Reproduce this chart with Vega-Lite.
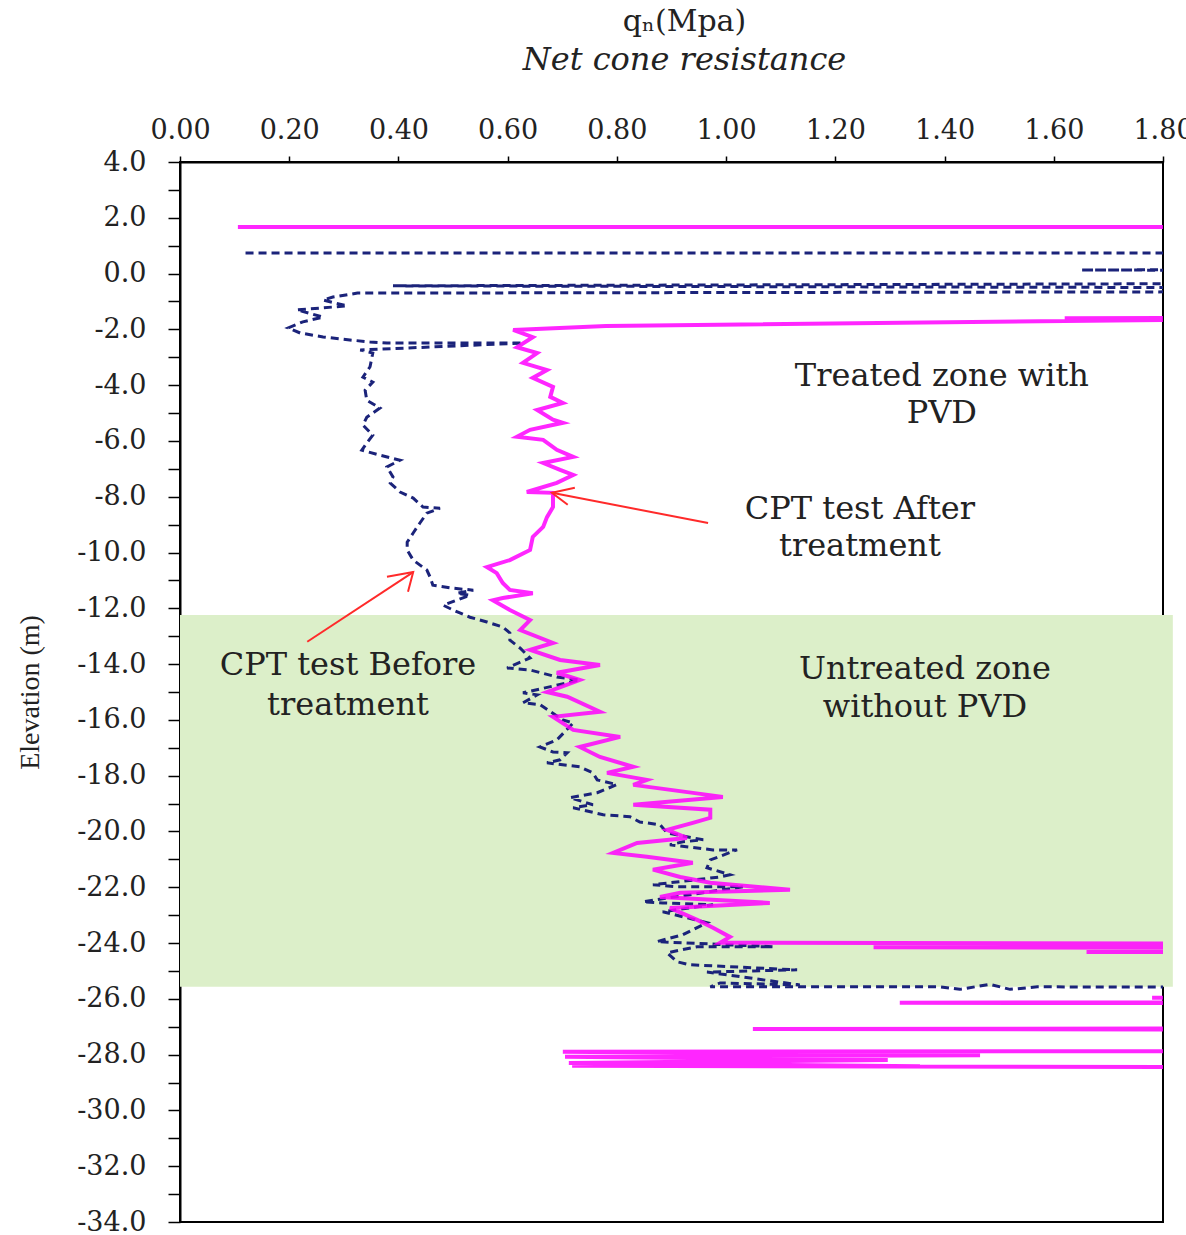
{
  "$schema": "https://vega.github.io/schema/vega-lite/v6.json",
  "width": 983,
  "height": 1060,
  "autosize": {"type": "none"},
  "padding": {"left": 180, "top": 162, "right": 23, "bottom": 13},
  "background": "white",
  "config": {"view": {"stroke": "black", "strokeWidth": 2}},
  "title": {
    "text": "qₙ(Mpa)",
    "subtitle": "Net cone resistance",
    "font": "DejaVu Serif",
    "fontSize": 30,
    "fontWeight": "normal",
    "color": "#222",
    "subtitleFont": "DejaVu Serif",
    "subtitleFontSize": 32,
    "subtitleFontStyle": "italic",
    "subtitleColor": "#222",
    "subtitlePadding": 8,
    "anchor": "middle",
    "dx": 13,
    "offset": 40
  },
  "datasets": {
    "zone": [{"q": 0, "q2": 1.818, "elev": -12.24, "elev2": -25.57}],
    "before": [
      {"i":0,"q":0.120,"elev":0.74},{"i":1,"q":3.0,"elev":0.74},{"i":2,"q":3.0,"elev":0.17},{"i":3,"q":1.65,"elev":0.13},
      {"i":4,"q":3.0,"elev":0.06},{"i":5,"q":3.0,"elev":-0.30},{"i":6,"q":0.390,"elev":-0.44},{"i":7,"q":3.0,"elev":-0.55},
      {"i":8,"q":3.0,"elev":-0.62},{"i":9,"q":0.325,"elev":-0.70},{"i":10,"q":0.280,"elev":-0.84},{"i":11,"q":0.262,"elev":-0.95},
      {"i":12,"q":0.306,"elev":-1.16},{"i":13,"q":0.214,"elev":-1.30},{"i":14,"q":0.262,"elev":-1.56},{"i":15,"q":0.225,"elev":-1.73},
      {"i":16,"q":0.198,"elev":-1.95},{"i":17,"q":0.220,"elev":-2.13},{"i":18,"q":0.262,"elev":-2.27},{"i":19,"q":0.311,"elev":-2.38},
      {"i":20,"q":0.348,"elev":-2.45},{"i":21,"q":0.379,"elev":-2.49},{"i":22,"q":0.628,"elev":-2.49},{"i":23,"q":0.330,"elev":-2.74},
      {"i":24,"q":0.353,"elev":-2.85},{"i":25,"q":0.348,"elev":-3.34},{"i":26,"q":0.335,"elev":-3.71},{"i":27,"q":0.353,"elev":-3.89},
      {"i":28,"q":0.339,"elev":-4.18},{"i":29,"q":0.342,"elev":-4.54},{"i":30,"q":0.366,"elev":-4.82},{"i":31,"q":0.342,"elev":-5.15},
      {"i":32,"q":0.335,"elev":-5.43},{"i":33,"q":0.353,"elev":-5.79},{"i":34,"q":0.342,"elev":-6.08},{"i":35,"q":0.333,"elev":-6.33},
      {"i":36,"q":0.366,"elev":-6.51},{"i":37,"q":0.403,"elev":-6.69},{"i":38,"q":0.379,"elev":-6.93},{"i":39,"q":0.390,"elev":-7.29},
      {"i":40,"q":0.385,"elev":-7.51},{"i":41,"q":0.403,"elev":-7.83},{"i":42,"q":0.427,"elev":-8.05},{"i":43,"q":0.445,"elev":-8.37},
      {"i":44,"q":0.476,"elev":-8.41},{"i":45,"q":0.452,"elev":-8.59},{"i":46,"q":0.439,"elev":-8.95},{"i":47,"q":0.427,"elev":-9.30},
      {"i":48,"q":0.416,"elev":-9.63},{"i":49,"q":0.416,"elev":-9.91},{"i":50,"q":0.427,"elev":-10.27},{"i":51,"q":0.452,"elev":-10.63},
      {"i":52,"q":0.458,"elev":-10.88},{"i":53,"q":0.463,"elev":-11.17},{"i":54,"q":0.500,"elev":-11.28},{"i":55,"q":0.537,"elev":-11.35},
      {"i":56,"q":0.507,"elev":-11.46},{"i":57,"q":0.531,"elev":-11.53},{"i":58,"q":0.482,"elev":-11.89},{"i":59,"q":0.500,"elev":-12.06},
      {"i":60,"q":0.531,"elev":-12.32},{"i":61,"q":0.562,"elev":-12.49},{"i":62,"q":0.591,"elev":-12.67},{"i":63,"q":0.604,"elev":-12.88},
      {"i":64,"q":0.604,"elev":-13.14},{"i":65,"q":0.623,"elev":-13.43},{"i":66,"q":0.641,"elev":-13.78},{"i":67,"q":0.599,"elev":-14.14},
      {"i":68,"q":0.641,"elev":-14.21},{"i":69,"q":0.690,"elev":-14.46},{"i":70,"q":0.732,"elev":-14.57},{"i":71,"q":0.628,"elev":-15.03},
      {"i":72,"q":0.654,"elev":-15.10},{"i":73,"q":0.628,"elev":-15.39},{"i":74,"q":0.659,"elev":-15.45},{"i":75,"q":0.701,"elev":-16.00},
      {"i":76,"q":0.720,"elev":-16.11},{"i":77,"q":0.690,"elev":-16.72},{"i":78,"q":0.659,"elev":-16.97},{"i":79,"q":0.683,"elev":-17.15},
      {"i":80,"q":0.709,"elev":-17.18},{"i":81,"q":0.696,"elev":-17.43},{"i":82,"q":0.672,"elev":-17.54},{"i":83,"q":0.732,"elev":-17.68},
      {"i":84,"q":0.756,"elev":-17.90},{"i":85,"q":0.764,"elev":-18.15},{"i":86,"q":0.800,"elev":-18.32},{"i":87,"q":0.764,"elev":-18.61},
      {"i":88,"q":0.714,"elev":-18.79},{"i":89,"q":0.756,"elev":-19.04},{"i":90,"q":0.720,"elev":-19.15},{"i":91,"q":0.775,"elev":-19.40},
      {"i":92,"q":0.824,"elev":-19.47},{"i":93,"q":0.842,"elev":-19.66},{"i":94,"q":0.879,"elev":-19.76},{"i":95,"q":0.892,"elev":-20.05},
      {"i":96,"q":0.958,"elev":-20.30},{"i":97,"q":0.921,"elev":-20.37},{"i":98,"q":0.897,"elev":-20.48},{"i":99,"q":0.976,"elev":-20.66},
      {"i":100,"q":1.020,"elev":-20.66},{"i":101,"q":0.971,"elev":-21.02},{"i":102,"q":0.965,"elev":-21.30},{"i":103,"q":1.007,"elev":-21.55},
      {"i":104,"q":0.989,"elev":-21.63},{"i":105,"q":0.866,"elev":-21.91},{"i":106,"q":0.910,"elev":-21.98},{"i":107,"q":1.031,"elev":-21.98},
      {"i":108,"q":0.848,"elev":-22.52},{"i":109,"q":0.884,"elev":-22.56},{"i":110,"q":0.976,"elev":-22.63},{"i":111,"q":0.947,"elev":-22.70},
      {"i":112,"q":0.884,"elev":-22.88},{"i":113,"q":0.965,"elev":-23.27},{"i":114,"q":0.921,"elev":-23.70},{"i":115,"q":0.873,"elev":-23.95},
      {"i":116,"q":1.086,"elev":-24.13},{"i":117,"q":0.947,"elev":-24.13},{"i":118,"q":0.892,"elev":-24.35},{"i":119,"q":0.910,"elev":-24.67},
      {"i":120,"q":0.934,"elev":-24.78},{"i":121,"q":1.130,"elev":-24.96},{"i":122,"q":0.965,"elev":-25.04},{"i":123,"q":1.135,"elev":-25.50},
      {"i":124,"q":0.989,"elev":-25.43},{"i":125,"q":0.971,"elev":-25.57},{"i":126,"q":1.392,"elev":-25.57},{"i":127,"q":1.428,"elev":-25.66},
      {"i":128,"q":1.483,"elev":-25.48},{"i":129,"q":1.520,"elev":-25.66},{"i":130,"q":1.570,"elev":-25.57},{"i":131,"q":3.0,"elev":-25.60}
    ],
    "after": [
      {"i":0,"q":0.106,"elev":1.67},{"i":1,"q":3.0,"elev":1.67},{"i":2,"q":3.0,"elev":-1.55},{"i":3,"q":1.62,"elev":-1.60},
      {"i":4,"q":3.0,"elev":-1.63},{"i":5,"q":1.80,"elev":-1.66},{"i":6,"q":0.78,"elev":-1.88},{"i":7,"q":0.610,"elev":-2.02},
      {"i":8,"q":0.646,"elev":-2.28},{"i":9,"q":0.617,"elev":-2.64},{"i":10,"q":0.654,"elev":-2.85},{"i":11,"q":0.628,"elev":-3.20},
      {"i":12,"q":0.672,"elev":-3.46},{"i":13,"q":0.646,"elev":-3.74},{"i":14,"q":0.683,"elev":-4.06},{"i":15,"q":0.678,"elev":-4.42},
      {"i":16,"q":0.701,"elev":-4.64},{"i":17,"q":0.654,"elev":-4.89},{"i":18,"q":0.683,"elev":-5.24},{"i":19,"q":0.701,"elev":-5.35},
      {"i":20,"q":0.641,"elev":-5.60},{"i":21,"q":0.617,"elev":-5.85},{"i":22,"q":0.665,"elev":-5.96},{"i":23,"q":0.690,"elev":-6.32},
      {"i":24,"q":0.720,"elev":-6.57},{"i":25,"q":0.665,"elev":-6.79},{"i":26,"q":0.696,"elev":-7.04},{"i":27,"q":0.720,"elev":-7.22},
      {"i":28,"q":0.690,"elev":-7.50},{"i":29,"q":0.635,"elev":-7.83},{"i":30,"q":0.683,"elev":-7.86},{"i":31,"q":0.683,"elev":-8.37},
      {"i":32,"q":0.672,"elev":-8.73},{"i":33,"q":0.665,"elev":-9.08},{"i":34,"q":0.646,"elev":-9.44},{"i":35,"q":0.641,"elev":-9.91},
      {"i":36,"q":0.604,"elev":-10.27},{"i":37,"q":0.562,"elev":-10.52},{"i":38,"q":0.580,"elev":-10.74},{"i":39,"q":0.591,"elev":-11.09},
      {"i":40,"q":0.604,"elev":-11.34},{"i":41,"q":0.646,"elev":-11.46},{"i":42,"q":0.591,"elev":-11.63},{"i":43,"q":0.573,"elev":-11.71},
      {"i":44,"q":0.604,"elev":-12.06},{"i":45,"q":0.641,"elev":-12.42},{"i":46,"q":0.623,"elev":-12.78},{"i":47,"q":0.683,"elev":-13.24},
      {"i":48,"q":0.641,"elev":-13.49},{"i":49,"q":0.696,"elev":-13.85},{"i":50,"q":0.769,"elev":-14.03},{"i":51,"q":0.690,"elev":-14.31},
      {"i":52,"q":0.732,"elev":-14.57},{"i":53,"q":0.672,"elev":-15.00},{"i":54,"q":0.709,"elev":-15.17},{"i":55,"q":0.769,"elev":-15.71},
      {"i":56,"q":0.683,"elev":-15.89},{"i":57,"q":0.720,"elev":-16.36},{"i":58,"q":0.806,"elev":-16.61},{"i":59,"q":0.732,"elev":-16.97},
      {"i":60,"q":0.769,"elev":-17.33},{"i":61,"q":0.830,"elev":-17.68},{"i":62,"q":0.782,"elev":-17.90},{"i":63,"q":0.855,"elev":-18.15},
      {"i":64,"q":0.830,"elev":-18.33},{"i":65,"q":0.994,"elev":-18.76},{"i":66,"q":0.830,"elev":-19.04},{"i":67,"q":0.971,"elev":-19.22},
      {"i":68,"q":0.971,"elev":-19.51},{"i":69,"q":0.939,"elev":-19.69},{"i":70,"q":0.892,"elev":-19.94},{"i":71,"q":0.928,"elev":-20.23},
      {"i":72,"q":0.837,"elev":-20.41},{"i":73,"q":0.793,"elev":-20.77},{"i":74,"q":0.855,"elev":-20.91},{"i":75,"q":0.939,"elev":-21.12},
      {"i":76,"q":0.866,"elev":-21.37},{"i":77,"q":0.916,"elev":-21.63},{"i":78,"q":0.971,"elev":-21.84},{"i":79,"q":1.117,"elev":-22.09},
      {"i":80,"q":0.916,"elev":-22.20},{"i":81,"q":0.879,"elev":-22.35},{"i":82,"q":1.080,"elev":-22.56},{"i":83,"q":0.897,"elev":-22.74},
      {"i":84,"q":0.947,"elev":-23.17},{"i":85,"q":0.976,"elev":-23.45},{"i":86,"q":1.007,"elev":-23.78},{"i":87,"q":0.989,"elev":-23.99},
      {"i":88,"q":3.0,"elev":-24.05},{"i":89,"q":3.0,"elev":-24.12},{"i":90,"q":1.27,"elev":-24.15},{"i":91,"q":3.0,"elev":-24.20},
      {"i":92,"q":3.0,"elev":-24.28},{"i":93,"q":1.66,"elev":-24.32},{"i":94,"q":3.0,"elev":-24.35},{"i":95,"q":3.0,"elev":-25.90},
      {"i":96,"q":1.78,"elev":-25.96},{"i":97,"q":3.0,"elev":-26.00},{"i":98,"q":3.0,"elev":-26.10},{"i":99,"q":1.318,"elev":-26.14},
      {"i":100,"q":3.0,"elev":-26.18},{"i":101,"q":3.0,"elev":-27.04},{"i":102,"q":1.049,"elev":-27.08},{"i":103,"q":3.0,"elev":-27.12},
      {"i":104,"q":3.0,"elev":-27.85},{"i":105,"q":0.701,"elev":-27.90},{"i":106,"q":1.465,"elev":-28.02},{"i":107,"q":0.705,"elev":-28.08},
      {"i":108,"q":1.296,"elev":-28.19},{"i":109,"q":0.712,"elev":-28.30},{"i":110,"q":1.355,"elev":-28.42},{"i":111,"q":0.718,"elev":-28.40},
      {"i":112,"q":3.0,"elev":-28.50}
    ],
    "arrows": [
      {"seg":"a1","i":0,"q":0.967,"elev":-8.94},{"seg":"a1","i":1,"q":0.681,"elev":-7.86},
      {"seg":"a2","i":0,"q":0.723,"elev":-7.68},{"seg":"a2","i":1,"q":0.681,"elev":-7.86},{"seg":"a2","i":2,"q":0.710,"elev":-8.29},
      {"seg":"b1","i":0,"q":0.233,"elev":-13.20},{"seg":"b1","i":1,"q":0.427,"elev":-10.70},
      {"seg":"b2","i":0,"q":0.379,"elev":-10.87},{"seg":"b2","i":1,"q":0.427,"elev":-10.70},{"seg":"b2","i":2,"q":0.4175,"elev":-11.41}
    ],
    "labels": [
      {"t":"Treated zone with","q":1.395,"elev":-3.68},
      {"t":"PVD","q":1.395,"elev":-4.99},
      {"t":"CPT test After","q":1.245,"elev":-8.45},
      {"t":"treatment","q":1.245,"elev":-9.78},
      {"t":"CPT test Before","q":0.3076,"elev":-14.04},
      {"t":"treatment","q":0.3076,"elev":-15.45},
      {"t":"Untreated zone","q":1.364,"elev":-14.19},
      {"t":"without PVD","q":1.364,"elev":-15.55}
    ]
  },
  "encoding": {
    "x": {
      "field": "q", "type": "quantitative",
      "scale": {"domain": [0, 1.8], "nice": false, "zero": false},
      "axis": {
        "orient": "top", "title": null, "grid": false,
        "values": [0, 0.2, 0.4, 0.6, 0.8, 1.0, 1.2, 1.4, 1.6, 1.8],
        "format": ".2f",
        "labelFont": "DejaVu Serif", "labelFontSize": 27, "labelColor": "#222",
        "labelPadding": 12, "labelFlush": false, "labelOverlap": false,
        "tickSize": 6, "tickColor": "black", "tickWidth": 1.5,
        "domainColor": "black", "domainWidth": 2
      }
    },
    "y": {
      "field": "elev", "type": "quantitative",
      "scale": {"domain": [-34, 4], "nice": false, "zero": false},
      "axis": {
        "title": "Elevation (m)", "grid": false,
        "values": [-34,-33,-32,-31,-30,-29,-28,-27,-26,-25,-24,-23,-22,-21,-20,-19,-18,-17,-16,-15,-14,-13,-12,-11,-10,-9,-8,-7,-6,-5,-4,-3,-2,-1,0,1,2,3,4],
        "labelExpr": "datum.value % 2 === 0 ? replace(format(datum.value, '.1f'), '\u2212', '-') : ''",
        "labelFont": "DejaVu Serif", "labelFontSize": 27, "labelColor": "#222",
        "labelPadding": 22, "labelFlush": false, "labelOverlap": false,
        "tickSize": 12, "tickColor": "black", "tickWidth": 1.5,
        "domainColor": "black", "domainWidth": 2,
        "titleFont": "Liberation Serif", "titleFontSize": 28, "titleFontWeight": "normal", "titleColor": "#222",
        "titleX": -150, "titleY": 530, "titleAngle": -90, "titleAlign": "center", "titleBaseline": "middle"
      }
    }
  },
  "layer": [
    {
      "data": {"name": "zone"},
      "mark": {"type": "rect", "color": "#dcefc9", "clip": false},
      "encoding": {"x2": {"field": "q2"}, "y2": {"field": "elev2"}}
    },
    {
      "data": {"name": "before"},
      "mark": {"type": "line", "color": "#1b237a", "strokeWidth": 3, "strokeDash": [8, 5], "clip": true},
      "encoding": {"order": {"field": "i", "type": "quantitative"}}
    },
    {
      "data": {"name": "after"},
      "mark": {"type": "line", "color": "#ff00ff", "opacity": 0.85, "strokeWidth": 4, "clip": true},
      "encoding": {"order": {"field": "i", "type": "quantitative"}}
    },
    {
      "data": {"name": "arrows"},
      "mark": {"type": "line", "color": "#ff2a2a", "strokeWidth": 2},
      "encoding": {"detail": {"field": "seg"}, "order": {"field": "i", "type": "quantitative"}}
    },
    {
      "data": {"name": "labels"},
      "mark": {"type": "text", "font": "DejaVu Serif", "fontSize": 32, "color": "#222", "align": "center", "baseline": "middle"},
      "encoding": {"text": {"field": "t"}}
    }
  ]
}
